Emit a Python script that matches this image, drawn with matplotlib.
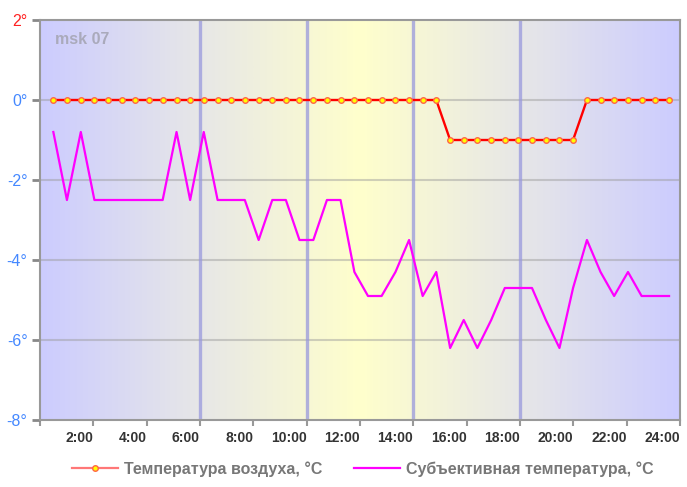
import numpy as np
import matplotlib
matplotlib.use("Agg")
import matplotlib.pyplot as plt
from matplotlib.colors import LinearSegmentedColormap
from matplotlib.lines import Line2D
from matplotlib.transforms import ScaledTranslation

plt.rcParams['font.family'] = ['Liberation Sans', 'DejaVu Sans']

# observation times, hours
times = [0.50, 1.01, 1.53, 2.04, 2.55, 3.07, 3.58, 4.09, 4.60, 5.12,
         5.63, 6.14, 6.66, 7.17, 7.68, 8.20, 8.71, 9.22, 9.73, 10.25,
         10.76, 11.27, 11.79, 12.30, 12.81, 13.33, 13.84, 14.35, 14.86, 15.38,
         15.89, 16.40, 16.92, 17.43, 17.94, 18.45, 18.97, 19.48, 19.99, 20.51,
         21.02, 21.53, 22.05, 22.56, 23.07, 23.59]

# air temperature
air_temp = [0] * 29 + [-1] * 10 + [0] * 7

# feels-like temperature
feels_like = [-0.8, -2.5, -0.8, -2.5, -2.5, -2.5, -2.5, -2.5, -2.5, -0.8,
              -2.5, -0.8, -2.5, -2.5, -2.5, -3.5, -2.5, -2.5, -3.5, -3.5,
              -2.5, -2.5, -4.3, -4.9, -4.9, -4.3, -3.5, -4.9, -4.3, -6.2,
              -5.5, -6.2, -5.5, -4.7, -4.7, -4.7, -5.5, -6.2, -4.7, -3.5,
              -4.3, -4.9, -4.3, -4.9, -4.9, -4.9]

x_ticks = list(range(0, 25, 2))
x_labels = [''] + ['%d:00' % h for h in range(2, 25, 2)]
y_ticks = [-8, -6, -4, -2, 0, 2]
y_labels = ['-8°', '-6°', '-4°', '-2°', '0°', '2°']
day_marks = [6, 10, 14, 18]

fig = plt.figure(figsize=(6.87, 4.87), dpi=100)
ax = fig.add_axes([40 / 687, 1 - 420 / 487, 640 / 687, 400 / 487])

# day/night background gradient
cmap = LinearSegmentedColormap.from_list('daylight', [
    (0.0, '#ccccff'), (0.25, '#e7e7e7'), (0.5, '#ffffcc'),
    (0.75, '#e7e7e7'), (1.0, '#ccccff')])
grad = np.linspace(0, 1, 512).reshape(1, -1)
ax.imshow(grad, cmap=cmap, aspect='auto', extent=[0, 24, -8, 2], zorder=0)

for y in [-6, -4, -2, 0]:
    ax.axhline(y, color='#999999', alpha=0.45, lw=1.5, zorder=1)
for d in day_marks:
    ax.axvline(d, color='#9999dd', alpha=0.75, lw=2.4, zorder=1)

ax.plot(times, feels_like, color='#ff00ff', lw=1.6, zorder=3)
ax.plot(times, air_temp, color='#ff0000', lw=1.7, marker='o', ms=4,
        mfc='#ffff00', mec='#ff6644', mew=1.0, zorder=4)

ax.set_xlim(0, 24)
ax.set_ylim(-8, 2)

ax.set_xticks(x_ticks)
ax.set_xticklabels(x_labels, ha='right', fontsize=10, fontweight='bold', color='#333333')
offset = ScaledTranslation(2 / 72, 0, fig.dpi_scale_trans)
for lbl in ax.get_xticklabels():
    lbl.set_transform(lbl.get_transform() + offset)
ax.tick_params(axis='x', length=4, width=1.5, color='#999999', pad=4)

ax.set_yticks(y_ticks)
ax.set_yticklabels(y_labels, fontsize=11.5)
for lbl, v in zip(ax.get_yticklabels(), y_ticks):
    lbl.set_color('#ff2222' if v > 0 else '#4488ff')
ax.tick_params(axis='y', length=6, width=2, color='#888888', pad=3)

for s in ax.spines.values():
    s.set_color('#999999')
    s.set_linewidth(1.5)

ax.text(0.55, 1.5, 'msk 07', fontsize=11.5, fontweight='bold', color='#aaaabb',
        va='center', ha='left', zorder=5)

handles = [
    Line2D([], [], color='#ff7777', lw=1.6, marker='o', ms=4,
           mfc='#ffff00', mec='#ff6644', mew=1.0),
    Line2D([], [], color='#ff00ff', lw=1.6),
]
leg = fig.legend(handles, ['Температура воздуха, °C', 'Субъективная температура, °C'],
                 loc='center', bbox_to_anchor=(0.528, 1 - 469 / 487), ncol=2,
                 frameon=False, handlelength=2.9, handletextpad=0.35,
                 columnspacing=2.0, prop={'size': 11.5, 'weight': 'bold'})
for t in leg.get_texts():
    t.set_color('#777777')

fig.savefig('out.png', dpi=100)
